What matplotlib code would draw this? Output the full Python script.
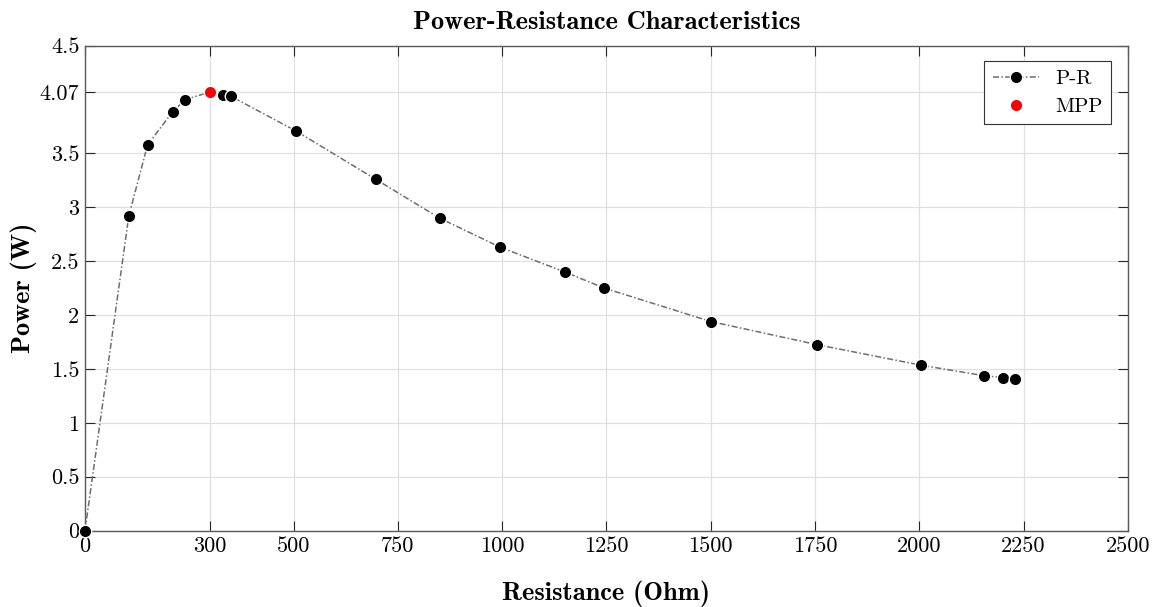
import matplotlib.pyplot as plt

# measured load sweep
resistance = [0, 105, 150, 210, 240, 300, 330, 350, 505, 697, 850, 995,
              1150, 1245, 1500, 1755, 2005, 2155, 2200, 2230]
power = [0, 2.92, 3.58, 3.886, 4.0, 4.07, 4.045, 4.03, 3.71, 3.26, 2.90, 2.63,
         2.40, 2.25, 1.94, 1.725, 1.534, 1.437, 1.42, 1.41]
mpp_r = 300
mpp_p = 4.07

x_ticks = [0, 300, 500, 750, 1000, 1250, 1500, 1750, 2000, 2250, 2500]
y_ticks = [0, 0.5, 1, 1.5, 2, 2.5, 3, 3.5, 4.07, 4.5]
y_tick_labels = ['0', '0.5', '1', '1.5', '2', '2.5', '3', '3.5', '4.07', '4.5']

plt.rcParams['font.family'] = 'cmr10'
plt.rcParams['axes.formatter.use_mathtext'] = True

fig = plt.figure(figsize=(11.58, 6.07), dpi=100)
ax = fig.add_axes([0.0734, 0.126, 0.9006, 0.7987])

ax.plot(resistance, power, linestyle=(0, (4, 1.5, 1, 1.5)), color='#6e6e6e',
        linewidth=1.1, marker='o', markersize=9, markerfacecolor='black',
        markeredgecolor='white', markeredgewidth=1.0, label='P-R', zorder=3,
        clip_on=False)
ax.plot([mpp_r], [mpp_p], linestyle='none', marker='o', markersize=9,
        markerfacecolor='#ff0000', markeredgecolor='white',
        markeredgewidth=1.0, label='MPP', zorder=4, clip_on=False)

ax.set_xlim(0, 2500)
ax.set_ylim(0, 4.5)
ax.set_xticks(x_ticks)
ax.set_xticklabels([str(t) for t in x_ticks])
ax.set_yticks(y_ticks)
ax.set_yticklabels(y_tick_labels)

ax.grid(True, color='#e0e0e0', linewidth=0.9)
ax.set_axisbelow(True)
ax.tick_params(direction='in', length=7, width=0.8, color='#262626',
               labelsize=16, top=True, right=True, pad=4)
for side in ['left', 'bottom', 'top', 'right']:
    ax.spines[side].set_color('#5a5a5a')
    ax.spines[side].set_linewidth(1.0)

ax.set_title('Power-Resistance Characteristics', fontfamily='cmb10',
             fontsize=19, pad=12)
ax.set_xlabel('Resistance (Ohm)', fontfamily='cmb10', fontsize=19, labelpad=18)
ax.set_ylabel('Power (W)', fontfamily='cmb10', fontsize=19, labelpad=2)

leg = ax.legend(loc='upper right', bbox_to_anchor=(0.9837, 0.9685),
                borderaxespad=0, fontsize=15, fancybox=False, framealpha=1,
                edgecolor='#333333', handlelength=2.2, borderpad=0.4,
                labelspacing=0.45)
leg.get_frame().set_linewidth(0.8)

fig.savefig('out.png', dpi=100)
